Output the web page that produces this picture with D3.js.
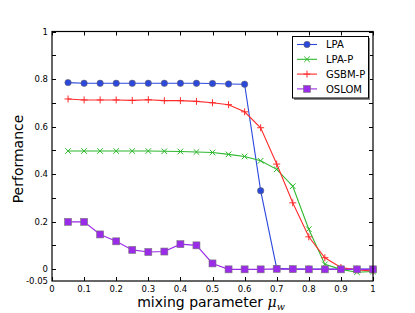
<!DOCTYPE html>
<html>
<head>
<meta charset="utf-8">
<script src="https://cdn.jsdelivr.net/npm/d3@7"></script>
<style>
  body { margin: 0; background: #fff; }
  text { font-family: "DejaVu Sans", sans-serif; }
</style>
</head>
<body>
<svg id="chart" width="415" height="313"></svg>
<script>
'use strict';

// mixing parameter values
const mu = [0.05, 0.1, 0.15, 0.2, 0.25, 0.3, 0.35, 0.4, 0.45, 0.5,
            0.55, 0.6, 0.65, 0.7, 0.75, 0.8, 0.85, 0.9, 0.95, 1.0];

const lpa    = [0.785, 0.782, 0.782, 0.782, 0.782, 0.782, 0.782, 0.782, 0.782, 0.781,
                0.779, 0.778, 0.33, 0.003, 0.0, 0.0, 0.0, 0.0, 0.0, 0.0];
const lpaP   = [0.497, 0.497, 0.497, 0.497, 0.497, 0.497, 0.496, 0.495, 0.493, 0.491,
                0.483, 0.474, 0.456, 0.42, 0.349, 0.168, 0.02, -0.001, -0.013, -0.01];
const gsbmP  = [0.716, 0.712, 0.712, 0.712, 0.710, 0.713, 0.709, 0.709, 0.706, 0.700,
                0.692, 0.662, 0.595, 0.442, 0.279, 0.136, 0.048, 0.007, -0.003, -0.008];
const oslom  = [0.199, 0.199, 0.146, 0.117, 0.081, 0.072, 0.074, 0.105, 0.100, 0.024,
                -0.001, -0.001, -0.001, 0.001, 0.0, -0.001, -0.001, -0.001, -0.001, -0.001];

const xTicks = [0, 0.1, 0.2, 0.3, 0.4, 0.5, 0.6, 0.7, 0.8, 0.9, 1];
const xTickLabels = ['0', '0.1', '0.2', '0.3', '0.4', '0.5', '0.6', '0.7', '0.8', '0.9', '1'];
const yTicks = [0, 0.1, 0.2, 0.3, 0.4, 0.5, 0.6, 0.7, 0.8, 0.9, 1];
const yTickLabels = [-0.05, 0, 0.2, 0.4, 0.6, 0.8, 1];

const series = [
    {name: 'LPA',    values: lpa,   color: '#2a48dc', marker: 'circle'},
    {name: 'LPA-P',  values: lpaP,  color: '#2db82d', marker: 'x'},
    {name: 'GSBM-P', values: gsbmP, color: '#ff2a2a', marker: 'plus'},
    {name: 'OSLOM',  values: oslom, color: '#9a2be8', marker: 'square'}
];

const svg = d3.select('#chart');
const mLeft = 52, mRight = 373, mTop = 31.5, mBottom = 281;

const x = d3.scaleLinear().domain([0, 1]).range([mLeft, mRight]);
const y = d3.scaleLinear().domain([-0.05, 1]).range([mBottom, mTop]);

// ticks (inside, on all four sides)
const tk = 4;
const g = svg.append('g').attr('stroke', '#000').attr('stroke-width', 1);
xTicks.forEach(t => {
    const px = Math.round(x(t)) + 0.5;
    g.append('line').attr('x1', px).attr('x2', px).attr('y1', mBottom).attr('y2', mBottom - tk);
    g.append('line').attr('x1', px).attr('x2', px).attr('y1', mTop).attr('y2', mTop + tk);
});
yTicks.forEach(t => {
    const py = Math.round(y(t)) + 0.5;
    g.append('line').attr('x1', mLeft).attr('x2', mLeft + tk).attr('y1', py).attr('y2', py);
    g.append('line').attr('x1', mRight).attr('x2', mRight - tk).attr('y1', py).attr('y2', py);
});

// tick labels
svg.append('g').selectAll('text').data(xTicks).enter().append('text')
    .attr('x', d => x(d))
    .attr('y', mBottom + 10.5)
    .attr('text-anchor', 'middle')
    .attr('font-size', 8.5)
    .text((d, i) => xTickLabels[i]);

svg.append('g').selectAll('text').data(yTickLabels).enter().append('text')
    .attr('x', mLeft - 4)
    .attr('y', d => y(d) + 3)
    .attr('text-anchor', 'end')
    .attr('font-size', 8.5)
    .text(d => d);

// lines
const line = d3.line()
    .x((d, i) => x(mu[i]))
    .y(d => y(d));

function drawMarker(sel, type, color) {
    if (type === 'circle') {
        sel.append('circle').attr('r', 3.2).attr('fill', color).attr('stroke', '#666').attr('stroke-width', 0.6);
    } else if (type === 'square') {
        sel.append('rect').attr('x', -3.5).attr('y', -3.5).attr('width', 7).attr('height', 7)
            .attr('fill', color).attr('stroke', '#777').attr('stroke-width', 0.6);
    } else if (type === 'x') {
        sel.append('path').attr('d', 'M-2.8,-2.8L2.8,2.8M-2.8,2.8L2.8,-2.8')
            .attr('stroke', color).attr('stroke-width', 1).attr('fill', 'none');
    } else if (type === 'plus') {
        sel.append('path').attr('d', 'M-3.5,0L3.5,0M0,-3.5L0,3.5')
            .attr('stroke', color).attr('stroke-width', 1).attr('fill', 'none');
    }
}

const plot = svg.append('g');
series.forEach(s => {
    plot.append('path')
        .attr('d', line(s.values))
        .attr('fill', 'none')
        .attr('stroke', s.color)
        .attr('stroke-width', 1.1);
    s.values.forEach((v, i) => {
        const m = plot.append('g').attr('transform', `translate(${x(mu[i])},${y(v)})`);
        drawMarker(m, s.marker, s.color);
    });
});

// frame
svg.append('rect')
    .attr('x', mLeft).attr('y', mTop)
    .attr('width', mRight - mLeft).attr('height', mBottom - mTop)
    .attr('fill', 'none').attr('stroke', '#000').attr('stroke-width', 1.2);

// legend
const lg = svg.append('g');
lg.append('rect').attr('x', 294).attr('y', 38).attr('width', 76).attr('height', 62).attr('fill', '#888');
lg.append('rect').attr('x', 292.5).attr('y', 36.5).attr('width', 76).attr('height', 61.5)
    .attr('fill', '#fff').attr('stroke', '#000').attr('stroke-width', 1);
series.forEach((s, i) => {
    const ly = 44.5 + i * 14.8;
    lg.append('line').attr('x1', 297).attr('x2', 317).attr('y1', ly).attr('y2', ly)
        .attr('stroke', s.color).attr('stroke-width', 1.1);
    drawMarker(lg.append('g').attr('transform', `translate(307,${ly})`), s.marker, s.color);
    lg.append('text').attr('x', 326).attr('y', ly + 3.6).attr('font-size', 10).text(s.name);
});

// axis labels
svg.append('text')
    .attr('transform', `translate(23,159) rotate(-90)`)
    .attr('text-anchor', 'middle')
    .attr('font-size', 14)
    .text('Performance');

const xl = svg.append('text')
    .attr('x', 211)
    .attr('y', 306.5)
    .attr('text-anchor', 'middle')
    .attr('font-size', 14);
xl.append('tspan').text('mixing parameter ');
xl.append('tspan').attr('font-style', 'italic').attr('font-family', 'DejaVu Serif').text('μ');
xl.append('tspan').attr('font-style', 'italic').attr('font-family', 'DejaVu Serif')
    .attr('font-size', 9.5).attr('dy', 3).text('w');
</script>
</body>
</html>
